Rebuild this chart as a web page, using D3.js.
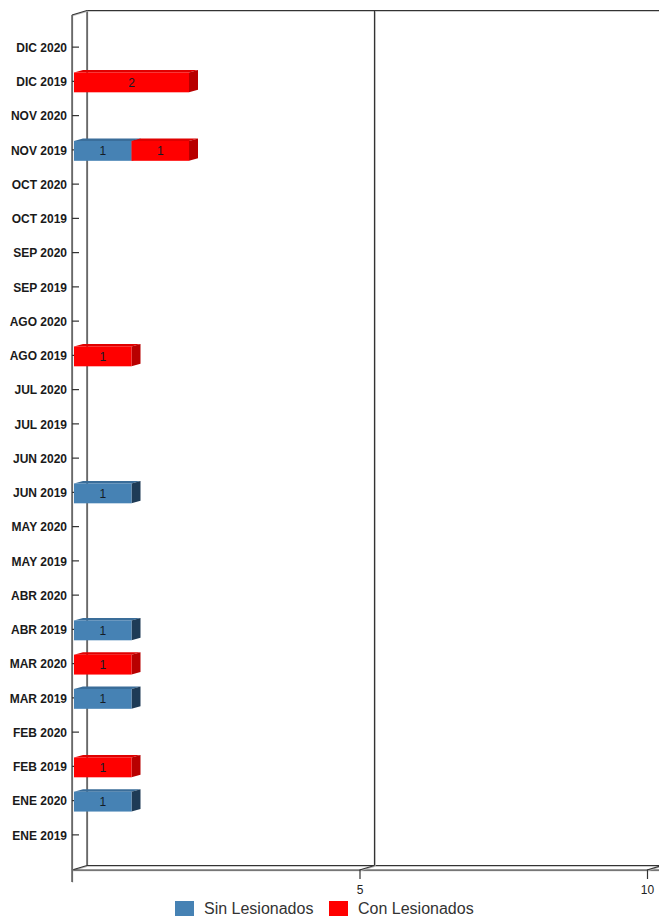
<!DOCTYPE html>
<html>
<head>
<meta charset="utf-8">
<script src="https://cdn.jsdelivr.net/npm/d3@7"></script>
<style>
  body { margin: 0; background: #fff; }
  svg { display: block; font-family: "Liberation Sans", Arial, sans-serif; }
</style>
</head>
<body>
<svg id="chart" width="659" height="917"></svg>
<script>
// meses de arriba hacia abajo
var meses = ["DIC 2020", "DIC 2019", "NOV 2020", "NOV 2019", "OCT 2020", "OCT 2019",
  "SEP 2020", "SEP 2019", "AGO 2020", "AGO 2019", "JUL 2020", "JUL 2019",
  "JUN 2020", "JUN 2019", "MAY 2020", "MAY 2019", "ABR 2020", "ABR 2019",
  "MAR 2020", "MAR 2019", "FEB 2020", "FEB 2019", "ENE 2020", "ENE 2019"];
var sinLesionados = [0, 0, 0, 1, 0, 0, 0, 0, 0, 0, 0, 0, 0, 1, 0, 0, 0, 1, 0, 1, 0, 0, 1, 0];
var conLesionados = [0, 2, 0, 1, 0, 0, 0, 0, 0, 1, 0, 0, 0, 0, 0, 0, 0, 0, 1, 0, 0, 1, 0, 0];
var series = ["Sin Lesionados", "Con Lesionados"];
var xTicks = [5, 10];

var colores = {
  "Sin Lesionados": { front: "#4682b4", top: "#3a6d99", side: "#1e3b56" },
  "Con Lesionados": { front: "#ff0000", top: "#e00000", side: "#b80000" }
};

var svg = d3.select("#chart");

// 3d depth of the walls and of the bars
var depthX = 15, depthY = 4.5;
var barDX = 9, barDY = 2.5;
var topFront = 15, floorFront = 870;
var W = 659;

var x = d3.scaleLinear().domain([0, 10]).range([72, 647]);
var y = d3.scaleBand().domain(meses).range([30, 852])
  .paddingInner(0.42).paddingOuter(0.21);

var x0 = x(0);

function line(x1, y1, x2, y2) {
  svg.append("line").attr("x1", x1 + 0.6).attr("y1", y1 + 0.6).attr("x2", x2 + 0.6).attr("y2", y2 + 0.6)
    .attr("stroke", "#bbb").attr("stroke-width", 1.2);
  svg.append("line").attr("x1", x1).attr("y1", y1).attr("x2", x2).attr("y2", y2)
    .attr("stroke", "#333").attr("stroke-width", 1.2);
}

// walls
line(x0 + depthX, topFront - depthY, W, topFront - depthY);
line(x0 + depthX, topFront - depthY, x0 + depthX, floorFront - depthY);
line(x0, topFront, x0 + depthX, topFront - depthY);
line(x0, floorFront, x0 + depthX, floorFront - depthY);
line(x0 + depthX, floorFront - depthY, W, floorFront - depthY);
line(x0, floorFront, W, floorFront);
line(x0, topFront, x0, floorFront + 12);

// gridlines on the back wall
xTicks.forEach(function (t) {
  line(x(t) + depthX, topFront - depthY, x(t) + depthX, floorFront - depthY);
  line(x(t), floorFront, x(t) + depthX, floorFront - depthY);
});

// x axis
var xAxis = svg.append("g")
  .attr("transform", "translate(0," + floorFront + ")")
  .call(d3.axisBottom(x).tickValues(xTicks).tickSize(9).tickPadding(6));
xAxis.select(".domain").remove();
xAxis.selectAll("line").attr("stroke", "#333").attr("stroke-width", 1.2);
xAxis.selectAll("text").attr("font-size", 12).attr("fill", "#222")
  .attr("font-family", "Liberation Sans, Arial, sans-serif");

// y axis
var yAxis = svg.append("g")
  .attr("transform", "translate(" + x0 + ",0)")
  .call(d3.axisLeft(y).tickSize(-7).tickPadding(5));
yAxis.select(".domain").remove();
yAxis.selectAll("line").attr("stroke", "#333").attr("stroke-width", 1.2);
yAxis.selectAll("text").attr("font-size", 12).attr("font-weight", "bold").attr("fill", "#1a1a1a")
  .attr("dy", "0.4em")
  .attr("font-family", "Liberation Sans, Arial, sans-serif");

// stacked bars
var rows = meses.map(function (m, i) {
  return { mes: m, "Sin Lesionados": sinLesionados[i], "Con Lesionados": conLesionados[i] };
});
var stacked = d3.stack().keys(series)(rows);

var bx = 2, by = 1;

stacked.forEach(function (s) {
  var c = colores[s.key];
  var g = svg.append("g");
  var bars = g.selectAll("g.bar")
    .data(s.filter(function (d) { return d[1] - d[0] > 0; }))
    .enter().append("g").attr("class", "bar");

  bars.each(function (d) {
    var el = d3.select(this);
    var xa = x(d[0]) + bx, xb = x(d[1]) + bx;
    var ya = y(d.data.mes) + by, h = y.bandwidth();
    el.append("polygon")
      .attr("points", [[xa, ya], [xa + barDX, ya - barDY], [xb + barDX, ya - barDY], [xb, ya]].join(" "))
      .attr("fill", c.top);
    el.append("polygon")
      .attr("points", [[xb, ya], [xb + barDX, ya - barDY], [xb + barDX, ya + h - barDY], [xb, ya + h]].join(" "))
      .attr("fill", c.side);
    el.append("rect")
      .attr("x", xa).attr("y", ya).attr("width", xb - xa).attr("height", h)
      .attr("fill", c.front);
    el.append("text")
      .attr("x", (xa + xb) / 2).attr("y", ya + h / 2).attr("dy", "0.35em")
      .attr("text-anchor", "middle").attr("font-size", 12).attr("fill", "#141c26")
      .text(d[1] - d[0]);
  });
});

// legend
var legend = svg.append("g").selectAll("g")
  .data(series).enter().append("g")
  .attr("transform", function (d, i) { return "translate(" + [175, 329][i] + ",901)"; });
legend.append("rect").attr("width", 19).attr("height", 15)
  .attr("fill", function (d) { return colores[d].front; });
legend.append("text").attr("x", 29).attr("y", 13)
  .attr("font-size", 16).attr("fill", "#333")
  .text(function (d) { return d; });
</script>
</body>
</html>
